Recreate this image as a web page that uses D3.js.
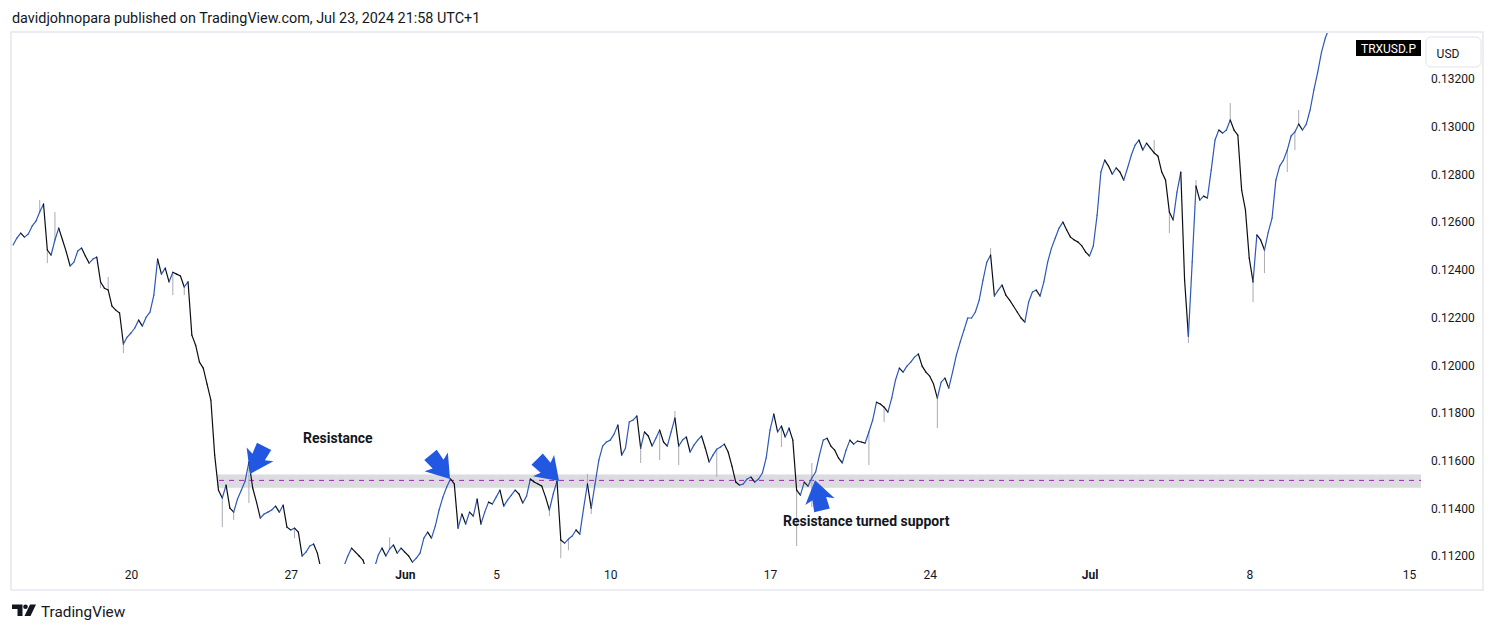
<!DOCTYPE html>
<html>
<head>
<meta charset="utf-8">
<script src="https://cdn.jsdelivr.net/npm/d3@7"></script>
<style>
  html, body { margin: 0; padding: 0; background: #fff; }
  svg { display: block; font-family: Roboto, "Noto Sans", sans-serif; }
</style>
</head>
<body>
<div id="chart"></div>
<script>
////////////////////////////////////////////////////////////////////
////////////////////////////  Data  ////////////////////////////////
const symbol = "TRXUSD.P";
const currency = "USD";
const header = "davidjohnopara published on TradingView.com, Jul 23, 2024 21:58 UTC+1";

// 4h closes, first one at candleStart
const candleStart = "2024-05-14T20:00";
const candleHours = 4;
const closes = [
  0.12504,
  0.12533, 0.12554, 0.12537, 0.12550, 0.12583, 0.12604, // May 15
  0.12642, 0.12676, 0.12483, 0.12462, 0.12525, 0.12575, // May 16
  0.12525, 0.12474, 0.12416, 0.12432, 0.12479, 0.12491, // May 17
  0.12458, 0.12428, 0.12445, 0.12453, 0.12349, 0.12323, // May 18
  0.12315, 0.12248, 0.12231, 0.12219, 0.12089, 0.12118, // May 19
  0.12135, 0.12156, 0.12189, 0.12164, 0.12202, 0.12223, // May 20
  0.12294, 0.12445, 0.12382, 0.12407, 0.12349, 0.12390, // May 21
  0.12382, 0.12374, 0.12328, 0.12349, 0.12126, 0.12084, // May 22
  0.12013, 0.11988, 0.11921, 0.11854, 0.11623, 0.11476, // May 23
  0.11443, 0.11497, 0.11401, 0.11384, 0.11439, 0.11476, // May 24
  0.11514, 0.11594, 0.11485, 0.11426, 0.11359, 0.11376, // May 25
  0.11384, 0.11393, 0.11409, 0.11384, 0.11413, 0.11321, // May 26
  0.11309, 0.11317, 0.11300, 0.11200, 0.11216, 0.11242, // May 27
  0.11250, 0.11212, 0.11141, 0.11120, 0.11133, 0.11107, // May 28
  0.11116, 0.11141, 0.11158, 0.11200, 0.11233, 0.11216, // May 29
  0.11200, 0.11183, 0.11133, 0.11116, 0.11149, 0.11204, // May 30
  0.11233, 0.11200, 0.11229, 0.11246, 0.11212, 0.11233, // May 31
  0.11216, 0.11200, 0.11174, 0.11191, 0.11212, 0.11275, // Jun 1
  0.11300, 0.11275, 0.11325, 0.11393, 0.11447, 0.11489, // Jun 2
  0.11523, 0.11502, 0.11317, 0.11376, 0.11334, 0.11384, // Jun 3
  0.11367, 0.11439, 0.11334, 0.11384, 0.11426, 0.11418, // Jun 4
  0.11447, 0.11476, 0.11409, 0.11434, 0.11455, 0.11476, // Jun 5
  0.11460, 0.11422, 0.11451, 0.11523, 0.11510, 0.11502, // Jun 6
  0.11493, 0.11447, 0.11393, 0.11460, 0.11514, 0.11267, // Jun 7
  0.11254, 0.11271, 0.11284, 0.11309, 0.11292, 0.11401, // Jun 8
  0.11502, 0.11401, 0.11502, 0.11602, 0.11661, 0.11678, // Jun 9
  0.11686, 0.11711, 0.11749, 0.11623, 0.11652, 0.11762, // Jun 10
  0.11770, 0.11787, 0.11652, 0.11720, 0.11703, 0.11661, // Jun 11
  0.11694, 0.11728, 0.11678, 0.11661, 0.11720, 0.11778, // Jun 12
  0.11661, 0.11686, 0.11699, 0.11636, 0.11665, 0.11686, // Jun 13
  0.11703, 0.11652, 0.11594, 0.11623, 0.11648, 0.11657, // Jun 14
  0.11669, 0.11636, 0.11577, 0.11510, 0.11497, 0.11502, // Jun 15
  0.11523, 0.11531, 0.11510, 0.11523, 0.11548, 0.11611, // Jun 16
  0.11728, 0.11795, 0.11720, 0.11745, 0.11699, 0.11736, // Jun 17
  0.11686, 0.11476, 0.11455, 0.11510, 0.11493, 0.11527, // Jun 18
  0.11552, 0.11623, 0.11686, 0.11694, 0.11661, 0.11644, // Jun 19
  0.11611, 0.11590, 0.11644, 0.11686, 0.11669, 0.11682, // Jun 20
  0.11678, 0.11673, 0.11720, 0.11770, 0.11845, 0.11837, // Jun 21
  0.11824, 0.11803, 0.11862, 0.11938, 0.11988, 0.11971, // Jun 22
  0.11996, 0.12013, 0.12034, 0.12047, 0.11996, 0.11971, // Jun 23
  0.11954, 0.11921, 0.11862, 0.11929, 0.11946, 0.11904, // Jun 24
  0.11971, 0.12042, 0.12097, 0.12147, 0.12198, 0.12198, // Jun 25
  0.12223, 0.12273, 0.12357, 0.12432, 0.12462, 0.12290, // Jun 26
  0.12315, 0.12336, 0.12294, 0.12273, 0.12248, 0.12223, // Jun 27
  0.12198, 0.12181, 0.12265, 0.12307, 0.12315, 0.12290, // Jun 28
  0.12349, 0.12432, 0.12491, 0.12533, 0.12575, 0.12600, // Jun 29
  0.12567, 0.12537, 0.12525, 0.12516, 0.12500, 0.12474, // Jun 30
  0.12458, 0.12500, 0.12629, 0.12810, 0.12860, 0.12835, // Jul 1
  0.12801, 0.12827, 0.12810, 0.12776, 0.12827, 0.12881, // Jul 2
  0.12923, 0.12944, 0.12902, 0.12931, 0.12910, 0.12890, // Jul 3
  0.12877, 0.12810, 0.12776, 0.12642, 0.12609, 0.12726, // Jul 4
  0.12810, 0.12357, 0.12122, 0.12432, 0.12751, 0.12692, // Jul 5
  0.12709, 0.12701, 0.12818, 0.12944, 0.12986, 0.12973, // Jul 6
  0.12986, 0.13028, 0.12986, 0.12965, 0.12734, 0.12651, // Jul 7
  0.12449, 0.12349, 0.12546, 0.12525, 0.12483, 0.12558, // Jul 8
  0.12617, 0.12776, 0.12835, 0.12860, 0.12902, 0.12961, // Jul 9
  0.12978, 0.13011, 0.12986, 0.13011, 0.13070, 0.13154, // Jul 10
  0.13229, 0.13313, 0.13372, 0.13414, 0.13426, 0.13439  // Jul 11
];

// long wicks (candle time, extreme price)
const wickSpikes = [
  ["2024-05-16T00:00", 0.12692], ["2024-05-16T08:00", 0.12428], ["2024-05-16T16:00", 0.12642],
  ["2024-05-18T16:00", 0.12323], ["2024-05-19T00:00", 0.12370], ["2024-05-19T16:00", 0.12051],
  ["2024-05-21T20:00", 0.12294], ["2024-05-22T08:00", 0.12294], ["2024-05-24T00:00", 0.11321],
  ["2024-05-24T12:00", 0.11351], ["2024-05-25T04:00", 0.11422], ["2024-05-27T04:00", 0.11275],
  ["2024-05-31T08:00", 0.11279], ["2024-06-07T08:00", 0.11367], ["2024-06-07T20:00", 0.11191],
  ["2024-06-08T04:00", 0.11224], ["2024-06-09T00:00", 0.11544], ["2024-06-09T04:00", 0.11376],
  ["2024-06-11T08:00", 0.11590], ["2024-06-12T04:00", 0.11602], ["2024-06-12T20:00", 0.11808],
  ["2024-06-13T00:00", 0.11581], ["2024-06-14T16:00", 0.11531], ["2024-06-17T12:00", 0.11657],
  ["2024-06-18T04:00", 0.11242], ["2024-06-18T20:00", 0.11590], ["2024-06-18T20:00", 0.11405],
  ["2024-06-21T08:00", 0.11581], ["2024-06-22T00:00", 0.11762], ["2024-06-24T08:00", 0.11736],
  ["2024-06-26T16:00", 0.12491], ["2024-07-03T20:00", 0.12944], ["2024-07-04T12:00", 0.12554],
  ["2024-07-05T08:00", 0.12093], ["2024-07-05T16:00", 0.12776], ["2024-07-07T04:00", 0.13099],
  ["2024-07-08T04:00", 0.12265], ["2024-07-08T16:00", 0.12386], ["2024-07-09T16:00", 0.12810],
  ["2024-07-10T00:00", 0.12902], ["2024-07-10T04:00", 0.13070]
];

// axes
const timeTicks = ["2024-05-20", "2024-05-27", "2024-06-01", "2024-06-05", "2024-06-10",
  "2024-06-17", "2024-06-24", "2024-07-01", "2024-07-08", "2024-07-15"];
const timeTickLabels = ["20", "27", "Jun", "5", "10", "17", "24", "Jul", "8", "15"];
const priceTicks = [0.112, 0.114, 0.116, 0.118, 0.120, 0.122, 0.124, 0.126, 0.128, 0.130, 0.132];

// resistance zone
const zoneFrom = "2024-05-23T18:30";
const zoneBand = [0.11486, 0.11542];
const zoneLevel = 0.11517;

// arrow markers: tip (time, price) and pointing angle in degrees
const arrowTips = [["2024-05-25T05:10", 0.11544], ["2024-06-02T23:30", 0.11523],
  ["2024-06-07T18:10", 0.11514], ["2024-06-18T23:20", 0.11518]];
const arrowAngles = [117, 51, 45, -103];

// text notes (text, time, price at baseline)
const noteTexts = ["Resistance", "Resistance turned support"];
const noteTimes = ["2024-05-27T12:55", "2024-06-17T13:40"];
const notePrices = [0.11674, 0.11326];

////////////////////////////////////////////////////////////////////
////////////////////////////  Init  ////////////////////////////////
const width = 1497, height = 632;
const plot = { left: 12, right: 1421, top: 33, bottom: 564 };
const parse = (s) => new Date(s);

const svg = d3.select("#chart").append("svg")
  .attr("width", width).attr("height", height);

// scales
const x = d3.scaleTime()
  .domain([parse("2024-05-20T00:00"), parse("2024-07-15T00:00")])
  .range([131, 1409]);
const y = d3.scaleLinear().domain([0.112, 0.132]).range([556, 79]);

const step = candleHours * 3600 * 1000;
const t0 = parse(candleStart).getTime();
const candles = closes.map((c, i) => ({
  t: new Date(t0 + i * step),
  prevT: new Date(t0 + (i - 1) * step),
  open: i ? closes[i - 1] : c,
  close: c,
}));

// header
svg.append("text").attr("x", 12).attr("y", 23)
  .attr("font-size", 14.4).attr("fill", "#131722").text(header);

// frame
svg.append("rect").attr("x", 11).attr("y", 32).attr("width", 1472).attr("height", 558)
  .attr("fill", "none").attr("stroke", "#e6e8ee").attr("stroke-width", 1.5);

// clip
const defs = svg.append("defs");
defs.append("clipPath").attr("id", "plot-clip").append("rect")
  .attr("x", plot.left).attr("y", plot.top)
  .attr("width", plot.right - plot.left).attr("height", plot.bottom - plot.top);
defs.append("clipPath").attr("id", "axis-clip").append("rect")
  .attr("x", plot.right).attr("y", plot.top)
  .attr("width", 62).attr("height", plot.bottom - plot.top - 2);

const g = svg.append("g").attr("clip-path", "url(#plot-clip)");

// resistance zone
g.append("rect")
  .attr("x", x(parse(zoneFrom)))
  .attr("y", y(zoneBand[1]))
  .attr("width", plot.right - x(parse(zoneFrom)))
  .attr("height", y(zoneBand[0]) - y(zoneBand[1]))
  .attr("fill", "#dcdce0");
g.append("line")
  .attr("x1", x(parse(zoneFrom)) + 2).attr("x2", plot.right)
  .attr("y1", y(zoneLevel)).attr("y2", y(zoneLevel))
  .attr("stroke", "#9c27b0").attr("stroke-width", 1)
  .attr("stroke-dasharray", "5,5");

// wicks
g.selectAll(".wick")
  .data(wickSpikes)
  .join("line")
  .attr("class", "wick")
  .attr("x1", (d) => x(parse(d[0])))
  .attr("x2", (d) => x(parse(d[0])))
  .attr("y1", (d) => y(closes[Math.round((parse(d[0]) - t0) / step)]))
  .attr("y2", (d) => y(d[1]))
  .attr("stroke", "#a9abb2").attr("stroke-width", 1);

// candles (open -> close, drawn as connected strokes)
g.selectAll(".candle")
  .data(candles.slice(1))
  .join("line")
  .attr("class", "candle")
  .attr("x1", (d) => x(d.prevT))
  .attr("x2", (d) => x(d.t))
  .attr("y1", (d) => y(d.open))
  .attr("y2", (d) => y(d.close))
  .attr("stroke", (d) => (d.close >= d.open ? "#2d58b8" : "#0b0e14"))
  .attr("stroke-width", 1.2)
  .attr("stroke-linecap", "round");

// arrows
const arrowShape = [[0, 0], [-22, -15], [-19, -7], [-31, -8], [-31, 8], [-19, 7], [-22, 15]];
g.selectAll(".arrow")
  .data(arrowTips)
  .join("path")
  .attr("class", "arrow")
  .attr("d", "M" + arrowShape.join("L") + "Z")
  .attr("transform", (d, i) =>
    `translate(${x(parse(d[0]))},${y(d[1])}) rotate(${arrowAngles[i]})`)
  .attr("fill", "#2157e1");

// notes
svg.selectAll(".note")
  .data(noteTexts)
  .join("text")
  .attr("class", "note")
  .attr("x", (d, i) => x(parse(noteTimes[i])))
  .attr("y", (d, i) => y(notePrices[i]))
  .attr("font-size", 14).attr("font-weight", "bold").attr("fill", "#131722")
  .text((d) => d);

// time axis
const xAxis = svg.append("g")
  .attr("transform", `translate(0,${plot.bottom})`)
  .call(d3.axisBottom(x)
    .tickValues(timeTicks.map((s) => parse(s + "T00:00")))
    .tickFormat((d, i) => timeTickLabels[i])
    .tickSize(0).tickPadding(6));
xAxis.select(".domain").remove();
xAxis.selectAll("text")
  .attr("font-family", "Roboto, sans-serif").attr("font-size", 12).attr("fill", "#131722")
  .attr("font-weight", (d, i) => (isNaN(+timeTickLabels[i]) ? "bold" : "normal"));

// price axis
const yAxis = svg.append("g")
  .attr("clip-path", "url(#axis-clip)")
  .append("g")
  .attr("transform", "translate(1431,0)")
  .call(d3.axisRight(y).tickValues(priceTicks).tickFormat(d3.format(".5f"))
    .tickSize(0).tickPadding(0));
yAxis.select(".domain").remove();
yAxis.selectAll("text")
  .attr("font-family", "Roboto, sans-serif").attr("font-size", 12).attr("fill", "#131722");

// currency box
svg.append("rect").attr("x", 1426).attr("y", 37).attr("width", 55).attr("height", 30)
  .attr("rx", 5).attr("fill", "#fff").attr("stroke", "#e0e3eb");
svg.append("text").attr("x", 1448).attr("y", 58).attr("text-anchor", "middle")
  .attr("font-size", 12).attr("fill", "#131722").text(currency);

// symbol label
svg.append("rect").attr("x", 1356).attr("y", 40).attr("width", 65).attr("height", 16)
  .attr("fill", "#000");
svg.append("text").attr("x", 1388.5).attr("y", 52.5).attr("text-anchor", "middle")
  .attr("font-size", 12).attr("fill", "#fff").text(symbol);

// footer logo
const logo = svg.append("g").attr("fill", "#131722");
logo.append("path").attr("d", "M12,604.5H22.5V616H17.5V609H12Z");
logo.append("circle").attr("cx", 25.5).attr("cy", 606.8).attr("r", 2.3);
logo.append("path").attr("d", "M30,604.5H36L30.5,616H24.5Z");
svg.append("text").attr("x", 41).attr("y", 617)
  .attr("font-size", 15.3).attr("fill", "#131722").text("TradingView");
</script>
</body>
</html>
